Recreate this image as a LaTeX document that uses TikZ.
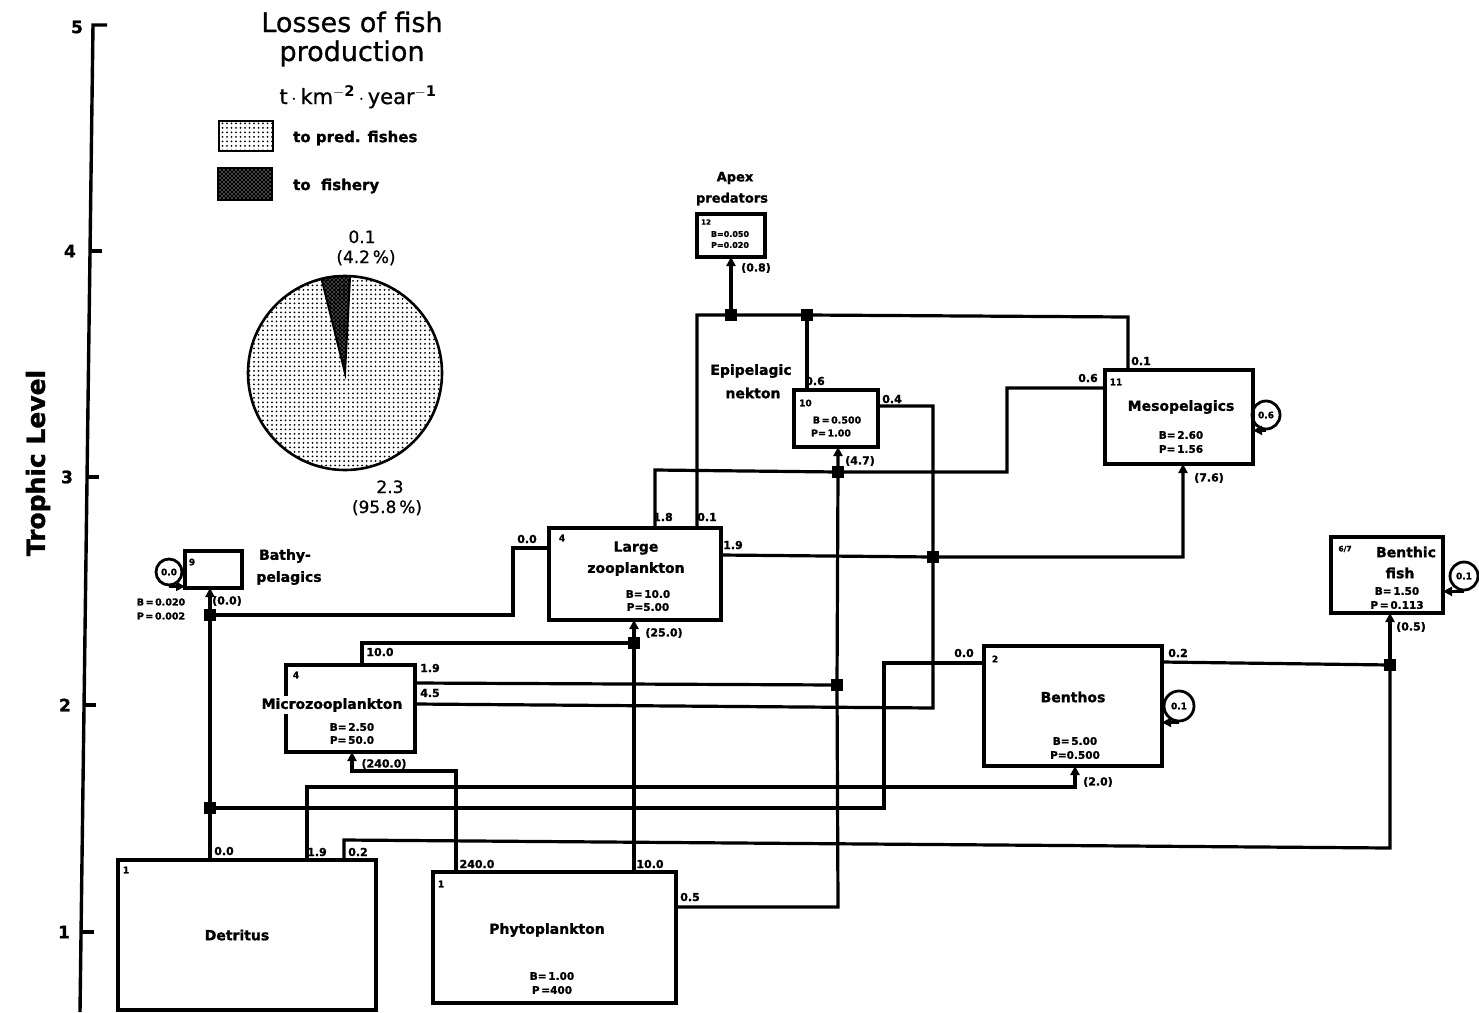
\documentclass[tikz,border=0pt]{standalone}
\usepackage{fontspec}
\setmainfont{DejaVu Sans}
\newfontfamily\hv[FakeBold=1.3]{DejaVu Sans Bold}
\newfontfamily\md[FakeBold=0.8]{DejaVu Sans}
\usetikzlibrary{patterns,arrows.meta,calc}
\pgfdeclarepatternformonly{bigdots}{\pgfpoint{-1pt}{-1pt}}{\pgfpoint{5pt}{5pt}}{\pgfpoint{4.5pt}{4.5pt}}{%
  \pgfpathcircle{\pgfpoint{2pt}{2pt}}{1pt}\pgfusepath{fill}}
\pgfdeclarepatternformonly{darkmesh}{\pgfpoint{-1pt}{-1pt}}{\pgfpoint{5pt}{5pt}}{\pgfpoint{4pt}{4pt}}{%
  \pgfsetlinewidth{1.5pt}
  \pgfpathmoveto{\pgfpoint{0pt}{0pt}}\pgfpathlineto{\pgfpoint{4pt}{4pt}}
  \pgfpathmoveto{\pgfpoint{0pt}{4pt}}\pgfpathlineto{\pgfpoint{4pt}{0pt}}
  \pgfusepath{stroke}}
\tikzset{
  box/.style={draw, line width=3.4pt, inner sep=0pt, outer sep=0pt, anchor=north west},
  con/.style={line width=3.2pt, line join=miter},
  arr/.style={con, -{Triangle[length=9pt,width=9pt]}},
  junc/.style={fill, rectangle, minimum size=12pt, inner sep=0pt},
  num/.style={font=\hv\fontsize{11}{11}\selectfont, inner sep=0pt},
  tiny/.style={font=\hv\fontsize{9}{9}\selectfont, inner sep=0pt},
  nm/.style={font=\hv\fontsize{14}{14}\selectfont, inner sep=0pt},
  bp/.style={font=\hv\fontsize{10.5}{10.5}\selectfont, inner sep=0pt},
  loopc/.style={draw, circle, line width=2.8pt, inner sep=0pt, font=\hv\fontsize{9}{9}\selectfont},
  tick/.style={line width=3.4pt},
  ticklab/.style={font=\hv\fontsize{17}{17}\selectfont, inner sep=0pt},
}
\begin{document}
\begin{tikzpicture}[x=1pt,y=-1pt]
\useasboundingbox (0,0) rectangle (1479,1012);
\fill[white] (0,0) rectangle (1479,1012);

% ---------- axis ----------
\draw[tick] (107,25) -- (93,25) -- (80,1012);
\draw[tick] (90,251) -- (102,251);
\draw[tick] (87,477) -- (99,477);
\draw[tick] (84,705) -- (96,705);
\draw[tick] (81,932) -- (94,932);
\node[ticklab] (l5) at (77,27) {5};
\node[ticklab] (l4) at (70,251) {4};
\node[ticklab] (l3) at (67,477) {3};
\node[ticklab] (l2) at (65,705) {2};
\node[ticklab] (l1) at (64,932) {1};
\node[font=\hv\fontsize{25}{25}\selectfont, rotate=90, inner sep=0pt] (ylab) at (38,463) {Trophic Level};

% ---------- legend ----------
\node[font=\md\fontsize{27}{27}\selectfont, inner sep=0pt, anchor=base] (tt1) at (352,32) {Losses of fish};
\node[font=\md\fontsize{27}{27}\selectfont, inner sep=0pt, anchor=base] (tt2) at (352,61) {production};
\node[font=\md\fontsize{21}{21}\selectfont, inner sep=0pt, anchor=base] (tt3) at (358,104) {t\,$\cdot$\,km$^{\mathbf{-2}}$\,$\cdot$\,year$^{\mathbf{-1}}$};
\node[draw, line width=2.6pt, pattern=bigdots, minimum width=54pt, minimum height=30pt, anchor=north west, inner sep=0pt, outer sep=0pt] (lg1) at (219,121) {};
\node[draw, line width=2.6pt, pattern=darkmesh, minimum width=54pt, minimum height=32pt, anchor=north west, inner sep=0pt, outer sep=0pt] (lg2) at (218,168) {};
\node[font=\hv\fontsize{15}{15}\selectfont, inner sep=0pt, anchor=west] (lt1) at (293,138) {to pred. fishes};
\node[font=\hv\fontsize{15}{15}\selectfont, inner sep=0pt, anchor=west] (lt2) at (293,186) {to\ \ fishery};

% ---------- pie ----------
\coordinate (pc) at (345,373);
\draw[line width=2.6pt, pattern=bigdots] (pc) circle[radius=97];
\draw[line width=2pt, pattern=darkmesh] (pc) -- ++(-104:97) arc[start angle=-104, end angle=-87, radius=97] -- cycle;
\node[font=\md\fontsize{17}{17}\selectfont, inner sep=0pt, anchor=base] (p1) at (362,243) {0.1};
\node[font=\md\fontsize{17}{17}\selectfont, inner sep=0pt, anchor=base] (p2) at (366,263) {(4.2\,\%)};
\node[font=\md\fontsize{17}{17}\selectfont, inner sep=0pt, anchor=base] (p3) at (390,493) {2.3};
\node[font=\md\fontsize{17}{17}\selectfont, inner sep=0pt, anchor=base] (p4) at (387,513) {(95.8\,\%)};

% ---------- boxes ----------
\node[box, minimum width=258pt, minimum height=150pt] (det) at (118,860) {};
\node[box, minimum width=243pt, minimum height=131pt] (phy) at (433,872) {};
\node[box, minimum width=129pt, minimum height=87pt] (mz) at (286,665) {};
\node[box, minimum width=172pt, minimum height=92pt] (lz) at (549,528) {};
\node[box, minimum width=68pt, minimum height=43pt] (apex) at (697,214) {};
\node[box, minimum width=84pt, minimum height=57pt] (epi) at (794,390) {};
\node[box, minimum width=148pt, minimum height=94pt] (meso) at (1105,370) {};
\node[box, minimum width=57pt, minimum height=37pt] (bathy) at (185,551) {};
\node[box, minimum width=178pt, minimum height=120pt] (bth) at (984,646) {};
\node[box, minimum width=112pt, minimum height=76pt] (bf) at (1331,537) {};

% ---------- box texts ----------
\node[tiny] (det1) at (126,870) {1};
\node[nm] (detn) at (237,935) {Detritus};

\node[tiny] (phy1) at (441,884) {1};
\node[nm] (phyn) at (547,930) {Phytoplankton};
\node[bp] (phyb) at (552,976) {B=\,1.00};
\node[bp] (phyp) at (552,990) {P\,=400};

\node[tiny] (mz1) at (296,675) {4};
\node[nm, fill=white, inner sep=2pt] (mzn) at (332,705) {Microzooplankton};
\node[bp] (mzb) at (352,727) {B=\,2.50};
\node[bp] (mzp) at (352,740) {P=\,50.0};

\node[tiny] (lz1) at (562,538) {4};
\node[nm] (lzn1) at (636,548) {Large};
\node[nm] (lzn2) at (636,569) {zooplankton};
\node[bp] (lzb) at (648,594) {B=\,10.0};
\node[bp] (lzp) at (648,607) {P=5.00};

\node[font=\hv\fontsize{7}{7}\selectfont, inner sep=0pt, anchor=west] (ap1) at (701,222) {12};
\node[font=\hv\fontsize{8}{8}\selectfont, inner sep=0pt] (apb) at (730,234) {B=0.050};
\node[font=\hv\fontsize{8}{8}\selectfont, inner sep=0pt] (app) at (730,245) {P=0.020};
\node[font=\hv\fontsize{13}{13}\selectfont, inner sep=0pt] (apn1) at (735,178) {Apex};
\node[font=\hv\fontsize{13}{13}\selectfont, inner sep=0pt] (apn2) at (732,199) {predators};

\node[tiny, anchor=west] (epi1) at (799,403) {10};
\node[font=\hv\fontsize{9.5}{9.5}\selectfont, inner sep=0pt] (epib) at (837,420) {B\,=\,0.500};
\node[font=\hv\fontsize{9.5}{9.5}\selectfont, inner sep=0pt] (epip) at (831,433) {P=\,1.00};
\node[nm] (epin1) at (751,371) {Epipelagic};
\node[nm] (epin2) at (753,393) {nekton};

\node[tiny] (ms1) at (1116,382) {11};
\node[nm] (msn) at (1181,407) {Mesopelagics};
\node[bp] (msb) at (1181,435) {B=\,2.60};
\node[bp] (msp) at (1181,449) {P=\,1.56};

\node[tiny] (bt1) at (192,562) {9};
\node[nm] (btn1) at (285,556) {Bathy-};
\node[nm] (btn2) at (289,578) {pelagics};
\node[font=\hv\fontsize{9.5}{9.5}\selectfont, inner sep=0pt] (btb) at (161,602) {B\,=\,0.020};
\node[font=\hv\fontsize{9.5}{9.5}\selectfont, inner sep=0pt] (btp) at (161,616) {P\,=\,0.002};

\node[tiny] (bh1) at (995,659) {2};
\node[nm] (bhn) at (1073,697) {Benthos};
\node[bp] (bhb) at (1075,741) {B=\,5.00};
\node[bp] (bhp) at (1075,755) {P=0.500};

\node[font=\hv\fontsize{7.5}{7.5}\selectfont, inner sep=0pt] (bf1) at (1345,549) {6/7};
\node[nm] (bfn1) at (1406,552) {Benthic};
\node[nm] (bfn2) at (1400,573) {fish};
\node[bp] (bfb) at (1397,591) {B=\,1.50};
\node[bp] (bfp) at (1397,605) {P\,=\,0.113};

% ---------- junctions and bends ----------
\node[junc] (jA) at (210,615) {};
\node[junc] (jB) at (210,808) {};
\node[junc] (jC) at (634,643) {};
\node[junc] (jD) at (837,685) {};
\node[junc] (jE) at (838,472) {};
\node[junc] (jF) at (933,557) {};
\node[junc] (jG) at (731,315) {};
\node[junc] (jH) at (807,315) {};
\node[junc] (jI) at (1390,665) {};
\coordinate (b1) at (513,548);
\coordinate (b2) at (884,663);
\coordinate (b3) at (307,787);
\coordinate (b3b) at (1075,787);
\coordinate (b4) at (344,840);
\coordinate (b4b) at (1390,848);
\coordinate (b5) at (456,771);
\coordinate (b5b) at (352,771);
\coordinate (b6) at (362,643);
\coordinate (b7) at (838,907);
\coordinate (b8) at (933,708);
\coordinate (b9) at (933,406);
\coordinate (b10) at (1183,557);
\coordinate (b11) at (655,470);
\coordinate (b12) at (1007,472);
\coordinate (b13) at (1007,388);
\coordinate (b14) at (697,315);
\coordinate (b15) at (1128,317);

% ---------- connectors ----------
\draw[arr] (jB |- det.north) -- (jB) -- (jA) -- (jA |- bathy.south);
\draw[con] (lz.west |- b1) -- (b1) -- (b1 |- jA) -- (jA);
\draw[con] (jB) -| (b2) -- (bth.west |- b2);
\draw[arr] (det.north -| b3) -- (b3) -- (b3b) -- (bth.south -| b3b);
\draw[con] (det.north -| b4) -- (b4) -- (b4b) -- (jI);
\draw[arr] (jI) -- (bf.south -| jI);
\draw[con] (bth.east |- 0,662) -- (jI);
\draw[arr] (phy.north -| b5) -- (b5) -- (b5b) -- (mz.south -| b5b);
\draw[arr] (phy.north -| jC) -- (jC) -- (lz.south -| jC);
\draw[con] (mz.north -| b6) -- (b6) -- (jC);
\draw[arr] (phy.east |- b7) -- (b7) -- (jD) -- (jE) -- (epi.south -| jE);
\draw[con] (mz.east |- 0,683) -- (jD);
\draw[con] (mz.east |- 0,704) -- (b8) -- (jF) -- (b9) -- (epi.east |- b9);
\draw[arr] (lz.east |- 0,555) -- (jF) -- (b10) -- (meso.south -| b10);
\draw[con] (lz.north -| b11) -- (b11) -- (jE) -- (b12) -- (b13) -- (meso.west |- b13);
\draw[con] (lz.north -| b14) -- (b14) -- (jG) -- (jH) -- (b15) -- (meso.north -| b15);
\draw[arr] (jG) -- (apex.south -| jG);
\draw[con] (jH) -- (epi.north -| jH);

% ---------- self loops ----------
\node[loopc, minimum size=28pt] (ml) at (1266,415) {0.6};
\draw[arr] (ml.south) -- (meso.east |- ml.south);
\node[loopc, minimum size=26pt] (bl) at (169,572) {0.0};
\draw[arr] (bl.south) -- (bathy.west |- bl.south);
\node[loopc, minimum size=30pt] (tl) at (1179,706) {0.1};
\draw[arr] (tl.south) -- (bth.east |- tl.south);
\node[loopc, minimum size=28pt] (fl) at (1464,576) {0.1};
\draw[arr] (fl.south) -- (bf.east |- fl.south);

% ---------- flow labels ----------
\node[num] (f1) at (224,851) {0.0};
\node[num] (f2) at (317,852) {1.9};
\node[num] (f3) at (358,852) {0.2};
\node[num] (f4) at (477,864) {240.0};
\node[num] (f5) at (650,864) {10.0};
\node[num] (f6) at (690,897) {0.5};
\node[num] (f7) at (380,652) {10.0};
\node[num] (f8) at (430,668) {1.9};
\node[num] (f9) at (430,693) {4.5};
\node[num] (f10) at (384,764) {(240.0)};
\node[num] (f11) at (527,539) {0.0};
\node[num] (f12) at (663,517) {1.8};
\node[num] (f13) at (707,517) {0.1};
\node[num] (f14) at (733,545) {1.9};
\node[num] (f15) at (664,633) {(25.0)};
\node[num] (f16) at (756,268) {(0.8)};
\node[num] (f17) at (815,381) {0.6};
\node[num] (f18) at (892,399) {0.4};
\node[num] (f19) at (860,461) {(4.7)};
\node[num] (f20) at (1141,361) {0.1};
\node[num] (f21) at (1088,378) {0.6};
\node[num] (f22) at (1209,478) {(7.6)};
\node[num] (f23) at (227,601) {(0.0)};
\node[num] (f24) at (964,653) {0.0};
\node[num] (f25) at (1178,653) {0.2};
\node[num] (f26) at (1098,782) {(2.0)};
\node[num] (f27) at (1411,627) {(0.5)};
\end{tikzpicture}
\end{document}
